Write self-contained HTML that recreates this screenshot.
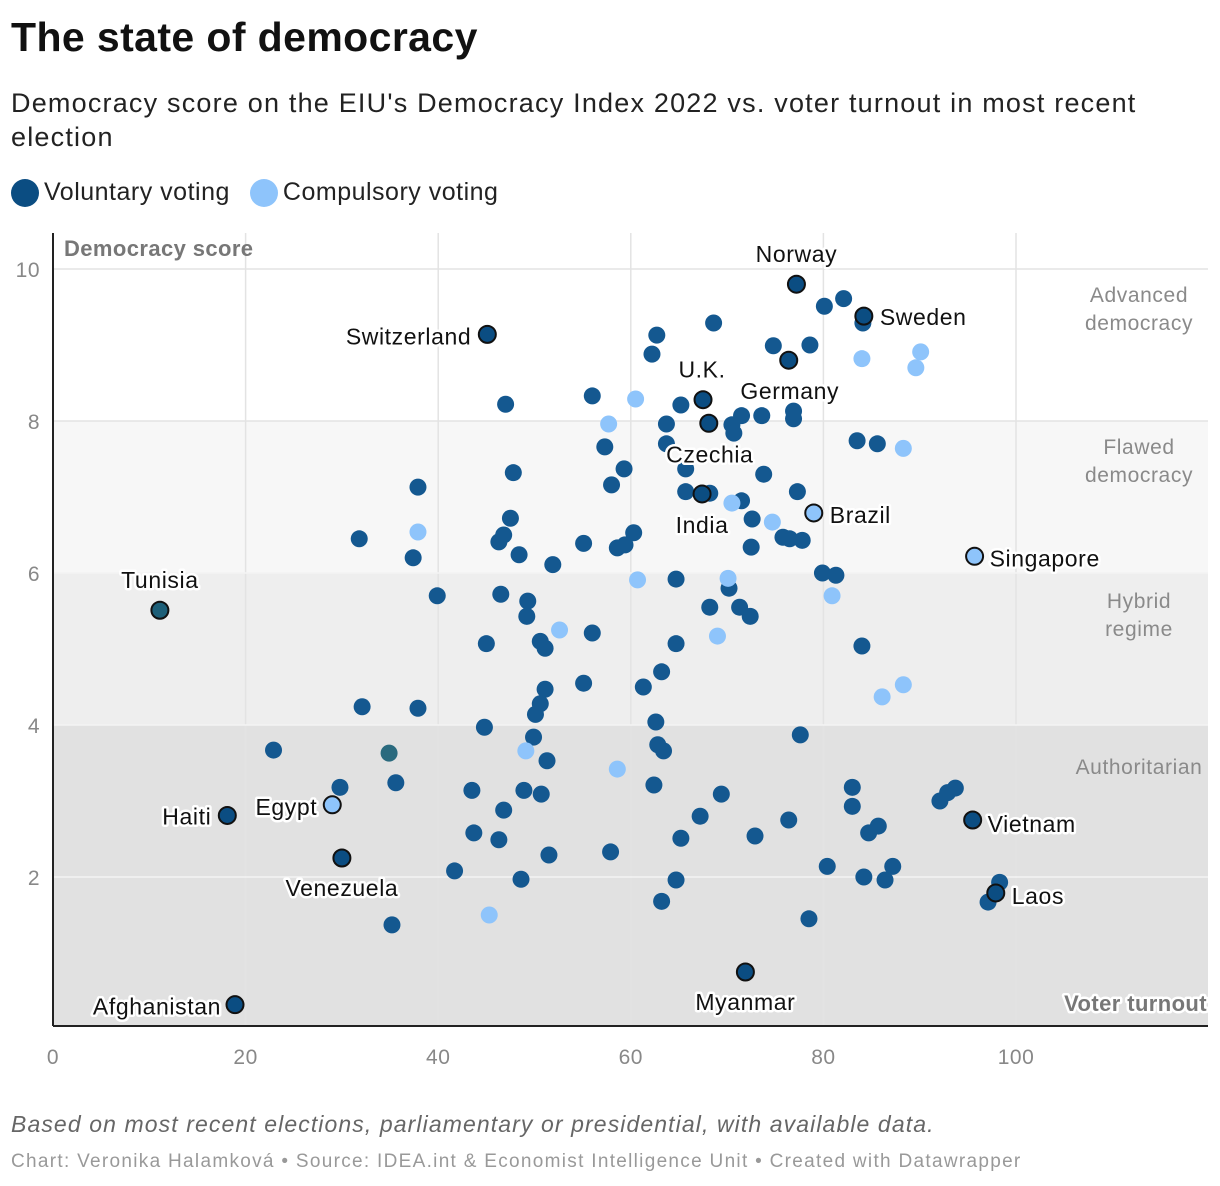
<!DOCTYPE html>
<html><head><meta charset="utf-8"><style>
body{margin:0;background:#fff;font-family:"Liberation Sans",sans-serif;}
#wrap{position:relative;width:1220px;height:1186px;overflow:hidden;}
.t{position:absolute;left:11px;margin:0;}
</style></head><body>
<div id="wrap">
<h1 class="t" style="top:14px;font-size:41px;font-weight:bold;color:#111;letter-spacing:0.4px;">The state of democracy</h1>
<div class="t" style="top:86px;font-size:27px;color:#222;line-height:34px;width:1180px;letter-spacing:1.2px;">Democracy score on the EIU's Democracy Index 2022 vs. voter turnout in most recent election</div>
<div class="t" style="top:178px;font-size:25px;color:#222;display:flex;align-items:center;letter-spacing:0.5px;">
<span style="display:inline-block;width:28px;height:28px;border-radius:50%;background:#0b4d82;margin-right:5px;"></span><span style="margin-right:20px;">Voluntary voting</span>
<span style="display:inline-block;width:28px;height:28px;border-radius:50%;background:#8ec4fb;margin-right:5px;"></span><span>Compulsory voting</span>
</div>
<svg id="chart" width="1220" height="1186" style="position:absolute;left:0;top:0;"></svg>
<div class="t" style="top:1111px;font-size:23px;font-style:italic;color:#666;letter-spacing:1.1px;">Based on most recent elections, parliamentary or presidential, with available data.</div>
<div class="t" style="top:1151px;font-size:19px;color:#999;letter-spacing:1.3px;">Chart: Veronika Halamková • Source: IDEA.int &amp; Economist Intelligence Unit • Created with Datawrapper</div>
</div>
<script>
const xTicks=[0,20,40,60,80,100];
const yTicks=[2,4,6,8,10];
const darkX=[80.1,82.1,84.1,68.6,62.7,62.2,74.8,78.6,56.0,47.0,65.2,63.7,71.5,73.6,76.9,76.9,70.5,70.7,63.7,57.3,83.5,85.6,47.8,59.3,65.7,58.0,73.8,37.9,77.3,65.7,71.5,68.2,47.5,72.6,31.8,46.3,46.8,55.1,60.3,58.6,59.4,75.8,76.5,77.8,72.5,48.4,37.4,51.9,79.9,81.3,64.7,70.2,39.9,46.5,49.3,68.2,71.3,72.4,49.2,56.0,50.6,51.1,45.0,64.7,84.0,63.2,55.1,61.3,51.1,50.6,50.1,32.1,37.9,44.8,62.6,62.8,63.4,49.9,77.6,22.9,51.3,35.6,29.8,43.5,48.9,50.7,62.4,69.4,83.0,83.0,46.8,67.2,76.4,43.7,46.3,65.2,72.9,84.7,85.7,51.5,57.9,80.4,87.2,41.7,48.6,84.2,86.4,64.7,63.2,98.3,97.1,35.2,78.5,92.1,92.9,93.7];
const darkY=[9.51,9.61,9.29,9.29,9.13,8.88,8.99,9.0,8.33,8.22,8.21,7.96,8.07,8.07,8.13,8.03,7.95,7.84,7.70,7.66,7.74,7.70,7.32,7.37,7.37,7.16,7.30,7.13,7.07,7.07,6.95,7.05,6.72,6.71,6.45,6.41,6.5,6.39,6.53,6.33,6.37,6.47,6.45,6.43,6.34,6.24,6.2,6.11,6.0,5.97,5.92,5.8,5.7,5.72,5.63,5.55,5.55,5.43,5.43,5.21,5.1,5.01,5.07,5.07,5.04,4.70,4.55,4.5,4.47,4.28,4.14,4.24,4.22,3.97,4.04,3.74,3.66,3.84,3.87,3.67,3.53,3.24,3.18,3.14,3.14,3.09,3.21,3.09,3.18,2.93,2.88,2.80,2.75,2.58,2.49,2.51,2.54,2.58,2.67,2.29,2.33,2.14,2.14,2.08,1.97,2.0,1.96,1.96,1.68,1.93,1.67,1.37,1.45,3.0,3.11,3.17];
const tealX=[34.9];
const tealY=[3.63];
const lightX=[84.0,90.1,89.6,60.5,57.7,88.3,37.9,70.5,74.7,70.1,60.7,80.9,52.6,69.0,88.3,86.1,49.1,58.6,45.3];
const lightY=[8.82,8.91,8.70,8.29,7.96,7.64,6.54,6.92,6.67,5.93,5.91,5.70,5.25,5.17,4.53,4.37,3.66,3.42,1.5];
const hlNames=["Switzerland","Norway","Sweden","Germany","U.K.","Czechia","India","Brazil","Singapore","Tunisia","Haiti","Egypt","Venezuela","Afghanistan","Myanmar","Vietnam","Laos"];
const hlX=[45.1,77.2,84.2,76.4,67.5,68.1,67.4,79.0,95.7,11.1,18.1,29.0,30.0,18.9,71.9,95.5,97.9];
const hlY=[9.14,9.8,9.38,8.8,8.28,7.97,7.04,6.79,6.22,5.51,2.81,2.95,2.25,0.32,0.75,2.75,1.79];
const hlType=["v","v","v","v","v","v","v","c","c","t","v","c","v","v","v","v","v"];
const lblDx=[-16,0,16,1,-1,1,0,16,15,0,-16,-15,0,-14,0,15,16];
const lblDy=[10,-22,9,39,-22,39,39,10,10,-22,9,10,38,10,38,12,11];
const lblAnchor=["end","middle","start","middle","middle","middle","middle","start","start","middle","end","end","middle","end","middle","start","start"];

const X0=53,X1=1208,Y0=1026,YT=233;
const xs=v=>53+v*9.63;
const ys=v=>1029-v*76;
const svg=document.getElementById('chart');
const NS='http://www.w3.org/2000/svg';
function mk(tag,a,parent){const e=document.createElementNS(NS,tag);for(const k in a)e.setAttribute(k,a[k]);(parent||svg).appendChild(e);return e;}
const bands=[[8,10.5,'#ffffff','band-advanced'],[6,8,'#f7f7f7','band-flawed'],[4,6,'#eeeeee','band-hybrid'],[0,4,'#e1e1e1','band-authoritarian']];
bands.forEach(b=>{const top=Math.max(ys(b[1]),YT);const r=mk('rect',{x:X0,y:top,width:X1-X0,height:Math.min(ys(b[0]),Y0)-top,fill:b[2]});

});
xTicks.forEach(t=>{if(t>0){const l=mk('line',{x1:xs(t),x2:xs(t),y1:YT,y2:Y0,stroke:'#e3e3e3','stroke-width':1.5});

}
const tx=mk('text',{x:xs(t),y:1064,'text-anchor':'middle','font-size':21,fill:'#888','letter-spacing':0.5});tx.textContent=t;

});
yTicks.forEach(t=>{const l=mk('line',{x1:X0,x2:X1,y1:ys(t),y2:ys(t),stroke:t>=8?'#e3e3e3':'#f4f4f4','stroke-width':1.5});


const tx=mk('text',{x:40,y:ys(t)+8,'text-anchor':'end','font-size':21,fill:'#888','letter-spacing':0.5});tx.textContent=t;

});
const ax=mk('line',{x1:X0,x2:X0,y1:YT,y2:Y0,stroke:'#222','stroke-width':2});


const ax2=mk('line',{x1:X0,x2:X1,y1:Y0,y2:Y0,stroke:'#222','stroke-width':2});


const bl=[["Advanced","democracy",294],["Flawed","democracy",446],["Hybrid","regime",600],["Authoritarian",null,766]];
bl.forEach(b=>{const t=mk('text',{x:1139,y:b[2]+8,'text-anchor':'middle','font-size':21,fill:'#8a8a8a','letter-spacing':0.6});t.textContent=b[0];


if(b[1]){const t2=mk('text',{x:1139,y:b[2]+36,'text-anchor':'middle','font-size':21,fill:'#8a8a8a','letter-spacing':0.6});t2.textContent=b[1];

}});
const yt=mk('text',{x:64,y:256,'font-size':22,'font-weight':'bold',fill:'#777','letter-spacing':0.4});yt.textContent='Democracy score';


const xt=mk('text',{x:1207,y:1011,'text-anchor':'end','font-size':22,'font-weight':'bold',fill:'#777',stroke:'#fff','stroke-width':5,'paint-order':'stroke','stroke-linejoin':'round','letter-spacing':0.4});xt.textContent='Voter turnout';


darkX.forEach((v,i)=>{const c=mk('circle',{cx:xs(v),cy:ys(darkY[i]),r:8.5,fill:'#145890'});

});
tealX.forEach((v,i)=>{const c=mk('circle',{cx:xs(v),cy:ys(tealY[i]),r:8.5,fill:'#2a6a7e'});

});
lightX.forEach((v,i)=>{const c=mk('circle',{cx:xs(v),cy:ys(lightY[i]),r:8.5,fill:'#8ec4fb'});

});
hlX.forEach((v,i)=>{const cx=xs(v),cy=ys(hlY[i]);
const col=hlType[i]==='c'?'#8ec4fb':(hlType[i]==='t'?'#1d5f78':'#0b4d82');
const c=mk('circle',{cx:cx,cy:cy,r:8.5,fill:col,stroke:'#111','stroke-width':2});


const t=mk('text',{x:cx+lblDx[i],y:cy+lblDy[i],'text-anchor':lblAnchor[i],'font-size':23,fill:'#111',stroke:'#fff','stroke-width':5,'paint-order':'stroke','stroke-linejoin':'round','letter-spacing':0.6});
t.textContent=hlNames[i];

});
</script>
</body></html>
